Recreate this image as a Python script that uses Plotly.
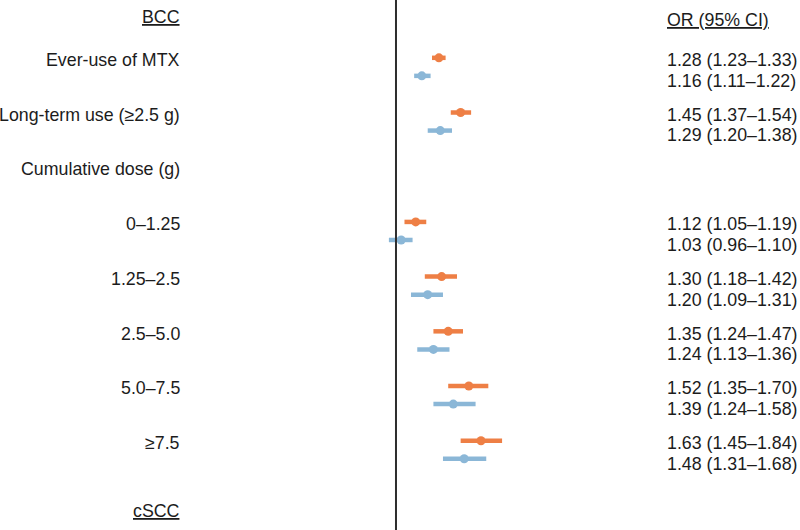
import plotly.graph_objects as go

# ---- data ----
row_labels = ["Ever-use of MTX", "Long-term use (≥2.5 g)", "Cumulative dose (g)",
              "0–1.25", "1.25–2.5", "2.5–5.0", "5.0–7.5", "≥7.5"]
data_rows = ["Ever-use of MTX", "Long-term use (≥2.5 g)",
             "0–1.25", "1.25–2.5", "2.5–5.0", "5.0–7.5", "≥7.5"]

orange_or = [1.28, 1.45, 1.12, 1.30, 1.35, 1.52, 1.63]
orange_lo = [1.23, 1.37, 1.05, 1.18, 1.24, 1.35, 1.45]
orange_hi = [1.33, 1.54, 1.19, 1.42, 1.47, 1.70, 1.84]

blue_or = [1.16, 1.29, 1.03, 1.20, 1.24, 1.39, 1.48]
blue_lo = [1.11, 1.20, 0.96, 1.09, 1.13, 1.24, 1.31]
blue_hi = [1.22, 1.38, 1.10, 1.31, 1.36, 1.58, 1.68]

# ---- layout helpers ----
ORANGE = "#EE7F45"
BLUE = "#8BB7D7"
TEXT = "#1c1c1c"
FONT = "Liberation Sans, Arial, Helvetica, sans-serif"
FS = 17.8

row_index = {lab: i + 1 for i, lab in enumerate(row_labels)}
y_orange = [row_index[r] - 0.04 for r in data_rows]
y_blue = [row_index[r] + 0.29 for r in data_rows]


def fmt(o, l, h):
    return f"{o:.2f} ({l:.2f}–{h:.2f})"


fig = go.Figure()
for ors, los, his, ys, col, name in [
    (orange_or, orange_lo, orange_hi, y_orange, ORANGE, "Series 1"),
    (blue_or, blue_lo, blue_hi, y_blue, BLUE, "Series 2"),
]:
    fig.add_trace(go.Scatter(
        x=ors, y=ys, mode="markers", name=name, showlegend=False,
        marker=dict(color=col, size=9, line=dict(width=0)),
        error_x=dict(type="data", symmetric=False,
                     array=[h - o for o, h in zip(ors, his)],
                     arrayminus=[o - l for o, l in zip(ors, los)],
                     color=col, thickness=4.5, width=0),
    ))

# vertical reference line at OR = 1
fig.add_shape(type="line", x0=1, x1=1, xref="x", y0=0, y1=1, yref="paper",
              line=dict(color="#2e2e2e", width=2))

ann = []
RIGHT_X = 665 / 800
LEFT_X = 182 / 800
# left labels
ann.append(dict(text="<u>BCC</u>", x=LEFT_X, xref="paper", xanchor="right",
                y=0.21, yref="y", showarrow=False))
for lab in row_labels:
    ann.append(dict(text=lab, x=LEFT_X, xref="paper", xanchor="right",
                    y=row_index[lab], yref="y", showarrow=False))
ann.append(dict(text="<u>cSCC</u>", x=LEFT_X, xref="paper", xanchor="right",
                y=9.25, yref="y", showarrow=False))
# right column
ann.append(dict(text="<u>OR (95% CI)</u>", x=RIGHT_X, xref="paper", xanchor="left",
                y=0.26, yref="y", showarrow=False))
for r, o, l, h in zip(data_rows, orange_or, orange_lo, orange_hi):
    ann.append(dict(text=fmt(o, l, h), x=RIGHT_X, xref="paper", xanchor="left",
                    y=row_index[r] + 0.0, yref="y", showarrow=False))
for r, o, l, h in zip(data_rows, blue_or, blue_lo, blue_hi):
    ann.append(dict(text=fmt(o, l, h), x=RIGHT_X, xref="paper", xanchor="left",
                    y=row_index[r] + 0.38, yref="y", showarrow=False))

fig.update_layout(
    width=800, height=530,
    margin=dict(l=0, r=0, t=0, b=0),
    paper_bgcolor="white", plot_bgcolor="white",
    font=dict(family=FONT, size=FS, color=TEXT),
    annotations=ann,
    xaxis=dict(type="log", range=[-0.9885, 1.0085], visible=False, fixedrange=True),
    yaxis=dict(range=[9.592, -0.097], visible=False, fixedrange=True),
    showlegend=False,
)

fig.write_html("out.html",
               config={"displayModeBar": False},
               post_script="document.body.style.margin='0px';document.body.style.overflow='hidden';")
